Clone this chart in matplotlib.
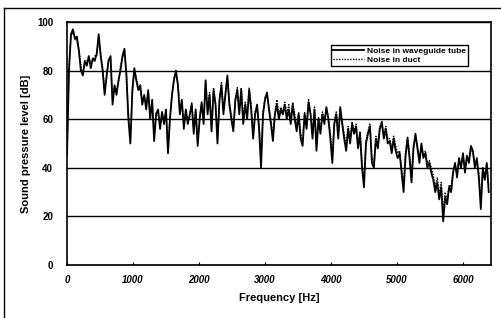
import numpy as np
import matplotlib
matplotlib.use("Agg")
import matplotlib.pyplot as plt
from matplotlib.lines import Line2D

plt.rcParams['font.family'] = ['Liberation Sans', 'DejaVu Sans']

# frequency grid, 30 Hz steps
freq = np.arange(0, 6420, 30)

# Noise in waveguide tube [dB]
tube = [
    45, 80, 95, 97, 93, 94, 88, 80, 78, 84,
    82, 86, 81, 85, 84, 87, 95, 86, 80, 70,
    78, 84, 86, 66, 74, 70, 76, 80, 86, 89,
    78, 60, 50, 72, 81, 76, 72, 74, 66, 70,
    64, 72, 60, 68, 51, 62, 64, 56, 63, 58,
    64, 46, 60, 70, 76, 80, 74, 62, 68, 56,
    64, 58, 62, 66, 54, 64, 49, 60, 67, 58,
    76, 62, 70, 55, 72, 66, 50, 68, 74, 62,
    70, 78, 66, 60, 55, 68, 72, 62, 72, 58,
    66, 60, 72, 64, 52, 62, 66, 56, 40, 62,
    68, 71, 64, 58, 51, 62, 66, 60, 64, 62,
    66, 60, 64, 58, 66, 60, 55, 62, 52, 49,
    62, 56, 67, 62, 52, 64, 47, 60, 54, 62,
    58, 65, 60, 52, 42, 58, 62, 52, 65, 58,
    52, 47, 56, 50, 58, 54, 57, 48, 54, 40,
    32, 50, 54, 57, 42, 40, 52, 48, 56, 59,
    52, 56, 50, 51, 46, 52, 47, 44, 46, 38,
    30, 45, 52, 44, 34, 48, 54, 48, 42, 50,
    44, 46, 40, 42, 38, 35, 30, 34, 27, 32,
    18, 28, 25, 32, 30, 38, 42, 36, 44, 40,
    46, 38, 45, 42, 49, 47, 40, 44, 36, 23,
    40, 35, 42, 30,
]

# Noise in duct [dB]
duct = [
    47, 82, 94, 96, 94, 92, 89, 82, 79, 83,
    84, 85, 83, 84, 86, 86, 93, 87, 81, 72,
    77, 85, 84, 68, 73, 72, 75, 82, 85, 88,
    79, 62, 52, 70, 80, 77, 73, 72, 68, 69,
    66, 71, 62, 67, 53, 63, 62, 58, 62, 60,
    63, 48, 61, 69, 77, 79, 75, 64, 67, 58,
    63, 60, 61, 67, 56, 63, 51, 61, 66, 60,
    75, 64, 71, 57, 73, 67, 52, 67, 75, 64,
    71, 77, 67, 62, 57, 67, 73, 64, 73, 60,
    67, 62, 73, 66, 54, 63, 65, 58, 44, 63,
    69, 70, 65, 60, 53, 63, 68, 62, 65, 63,
    67, 62, 66, 60, 67, 62, 57, 63, 54, 51,
    63, 58, 68, 63, 54, 65, 49, 61, 56, 63,
    60, 64, 61, 54, 45, 59, 63, 54, 64, 59,
    54, 49, 57, 52, 59, 55, 58, 50, 55, 42,
    35, 51, 55, 58, 44, 42, 53, 50, 57, 58,
    53, 57, 52, 52, 48, 53, 49, 46, 47, 40,
    33, 46, 53, 46, 36, 49, 53, 49, 44, 49,
    45, 47, 42, 43, 40, 37, 32, 36, 29, 34,
    22, 30, 27, 33, 32, 39, 41, 38, 43, 41,
    45, 40, 44, 43, 48, 46, 42, 43, 38, 26,
    39, 37, 41, 33,
]

fig = plt.figure(figsize=(5.02, 3.18), dpi=100)
ax = fig.add_axes([0.1335, 0.1667, 0.844, 0.7641])

ax.plot(freq, duct, color='black', lw=1.0, ls=(0, (1, 1)), label='Noise in duct')
ax.plot(freq, tube, color='black', lw=1.3, label='Noise in waveguide tube')

ax.set_xlim(0, 6420)
ax.set_ylim(0, 100)
ax.set_xticks([0, 1000, 2000, 3000, 4000, 5000, 6000])
ax.set_yticks([0, 20, 40, 60, 80, 100])
ax.set_xticklabels(['0', '1000', '2000', '3000', '4000', '5000', '6000'],
                   fontsize=7, fontweight='bold', fontstyle='italic')
ax.set_yticklabels(['0', '20', '40', '60', '80', '100'], fontsize=7, fontweight='bold')
ax.tick_params(axis='x', direction='in', length=2, width=0.8, pad=7)
ax.tick_params(axis='y', length=0, pad=10)
ax.yaxis.grid(True, color='black', lw=1.0)
for s in ax.spines.values():
    s.set_linewidth(1.2)

ax.set_xlabel('Frequency [Hz]', fontsize=8, fontweight='bold', labelpad=6)
ax.set_ylabel('Sound pressure level [dB]', fontsize=8, fontweight='bold', labelpad=4)

h, l = ax.get_legend_handles_labels()
leg = ax.legend(h[::-1], l[::-1], loc='upper right', bbox_to_anchor=(0.956, 0.922),
                prop={'size': 6, 'weight': 'bold'}, fancybox=False, framealpha=1,
                edgecolor='black', handlelength=3.8, borderpad=0.25, labelspacing=0.15,
                handletextpad=0.3)
leg.get_frame().set_linewidth(1.0)

# outer frame pieces (left and top)
fig.add_artist(Line2D([4 / 502, 4 / 502], [0, 1 - 8 / 318], color='black', lw=1.0))
fig.add_artist(Line2D([4 / 502, 1], [1 - 8 / 318, 1 - 8 / 318], color='black', lw=1.0))

fig.savefig('out.png', dpi=100)
